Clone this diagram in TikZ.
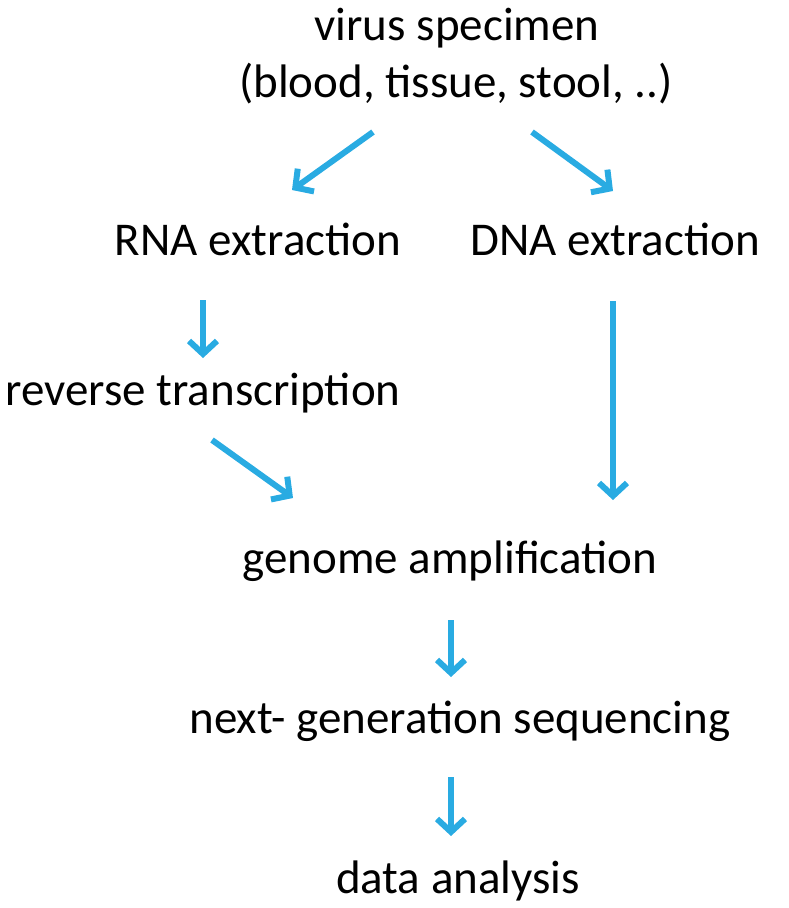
\documentclass[tikz,border=0pt]{standalone}
\usepackage{fontspec}
\setmainfont{Carlito}
\usetikzlibrary{arrows.meta}
\definecolor{flowblue}{HTML}{29ABE2}
\tikzset{
  lbl/.style={anchor=base, inner sep=0pt, font=\fontsize{47}{57}\selectfont, text=black},
  flowarrow/.style={draw=flowblue, line width=6pt, -{Straight Barb[length=13pt,width=28pt]}}
}
\begin{document}
\begin{tikzpicture}[x=1pt,y=-1pt]
\useasboundingbox (0,0) rectangle (789,908);
\node[lbl] (virus) at (457,40) {virus specimen};
\node[lbl] (blood) at (456,97) {(blood, tissue, stool, ..)};
\node[lbl] (rna) at (258,255) {RNA extraction};
\node[lbl] (dna) at (615,255) {DNA extraction};
\node[lbl] (rt) at (203,405) {reverse transcription};
\node[lbl] (amp) at (450,573) {genome amplification};
\node[lbl] (ngs) at (460,733) {next- generation sequencing};
\node[lbl] (data) at (458,893) {data analysis};

\coordinate (a1s) at (373,132); \coordinate (a1e) at (292,190);
\coordinate (a2s) at (532,132); \coordinate (a2e) at (613,191);
\coordinate (a3s) at (203,300); \coordinate (a3e) at (203,358);
\coordinate (a4s) at (212,440); \coordinate (a4e) at (293,498);
\coordinate (a5s) at (613,301); \coordinate (a5e) at (613,500);
\coordinate (a6s) at (451,620); \coordinate (a6e) at (451,677);
\coordinate (a7s) at (451,777); \coordinate (a7e) at (451,836);

\draw[flowarrow] (a1s) -- (a1e);
\draw[flowarrow] (a2s) -- (a2e);
\draw[flowarrow] (a3s) -- (a3e);
\draw[flowarrow] (a4s) -- (a4e);
\draw[flowarrow] (a5s) -- (a5e);
\draw[flowarrow] (a6s) -- (a6e);
\draw[flowarrow] (a7s) -- (a7e);
\end{tikzpicture}
\end{document}
